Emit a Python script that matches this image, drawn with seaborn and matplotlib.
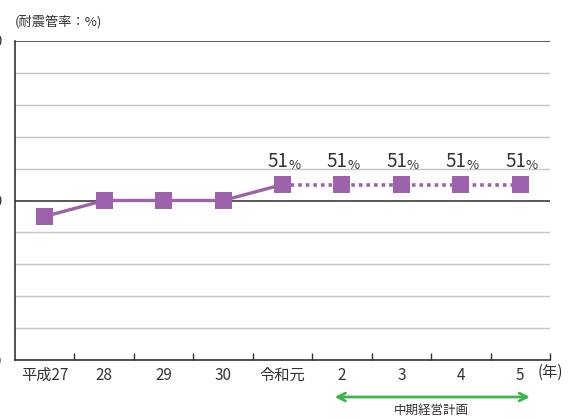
import matplotlib
matplotlib.use("Agg")
import matplotlib.pyplot as plt
import matplotlib.transforms as mtransforms
import seaborn as sns
import pandas as pd

years = ["平成27", "28", "29", "30", "令和元", "2", "3", "4", "5"]
rate = [49, 50, 50, 50, 51, 51, 51, 51, 51]
actual_n = 5          # 平成27..令和元 are actual, rest are plan
label_years = ["令和元", "2", "3", "4", "5"]

sns.set_theme(style="white")
plt.rcParams["font.family"] = ["Noto Sans CJK JP", "DejaVu Sans"]

purple = "#9e62ac"
green = "#3db54a"
txt = "#333333"

df = pd.DataFrame({"pos": range(len(years)), "year": years, "rate": rate})
actual = df.iloc[:actual_n]
plan = df.iloc[actual_n - 1:]

fig = plt.figure(figsize=(5.77, 4.19), dpi=100)
ax = fig.add_axes([15 / 577, 59 / 419, 535 / 577, 319 / 419])

# grid lines
for v in range(40, 61, 2):
    dark = v in (50, 60)
    ax.axhline(v, color="#4a4a4a" if dark else "#c4c4c4",
               lw=1.3 if dark else 1.0, zorder=1)

sns.lineplot(data=actual, x="pos", y="rate", color=purple, lw=2.4,
             ax=ax, zorder=3)
sns.lineplot(data=plan, x="pos", y="rate", color=purple, lw=2.6,
             linestyle=(0, (1, 1.1)), ax=ax, zorder=3)
sns.scatterplot(data=df, x="pos", y="rate", marker="s", s=150,
                color=purple, edgecolor="none", ax=ax, zorder=4)

for _, r in df[df["year"].isin(label_years)].iterrows():
    ax.annotate(f"{r['rate']}", (r["pos"], r["rate"]), xytext=(4, 9),
                textcoords="offset points", ha="right", va="bottom",
                fontsize=13.5, color=txt)
    ax.annotate("%", (r["pos"], r["rate"]), xytext=(4, 9),
                textcoords="offset points", ha="left", va="bottom",
                fontsize=9.5, color=txt)

ax.set_xlim(-0.5, len(years) - 0.5)
ax.set_ylim(40, 60)
ax.set_yticks([40, 50, 60])
ax.set_yticklabels(["40", "50", "60"], fontsize=10.5, color=txt)
ax.tick_params(axis="y", length=0, pad=9)
ax.set_xticks(range(len(years)))
ax.set_xticklabels(years, fontsize=11, color=txt)
ax.set_xticks([i + 0.5 for i in range(len(years))], minor=True)
ax.tick_params(axis="x", which="major", length=0, pad=5)
ax.tick_params(axis="x", which="minor", direction="in", length=5,
               width=1, color=txt, bottom=True)
ax.set_xlabel("")
ax.set_ylabel("")

for s in ["top", "right"]:
    ax.spines[s].set_visible(False)
for s in ["left", "bottom"]:
    ax.spines[s].set_color(txt)
    ax.spines[s].set_linewidth(1.2)

fig.text(538 / 577, 1 - 372 / 419, "(年)", fontsize=11, color=txt,
         ha="left", va="center")
fig.text(15 / 577, 1 - 22 / 419, "(耐震管率：%)", fontsize=9.5,
         color=txt, ha="left", va="center")

# mid-term plan arrow
blend = mtransforms.blended_transform_factory(ax.transData, fig.transFigure)
ax.annotate("", xy=(8.21, 1 - 397 / 419), xycoords=blend,
            xytext=(4.83, 1 - 397 / 419), textcoords=blend,
            annotation_clip=False,
            arrowprops=dict(arrowstyle="<->", color=green, lw=2,
                            mutation_scale=14))
ax.text(6.5, 1 - 410 / 419, "中期経営計画", transform=blend,
        fontsize=9, color=txt, ha="center", va="center")

fig.savefig("out.png", dpi=100)
